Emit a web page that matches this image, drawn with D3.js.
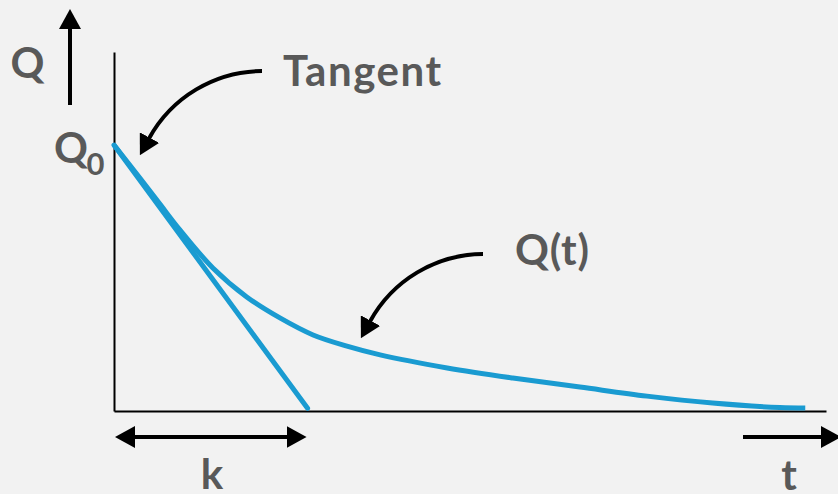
<!DOCTYPE html>
<html>
<head>
<meta charset="utf-8">
<script src="https://cdn.jsdelivr.net/npm/d3@7/dist/d3.min.js"></script>
<style>
  html, body { margin: 0; padding: 0; background: #f2f2f2; }
  svg { display: block; }
  text { font-family: Lato, "Open Sans", sans-serif; font-weight: 700; fill: #595959; }
</style>
</head>
<body>
<script>
// Discharge curve Q(t): time values and flow values
const timeValues = [0, 3.8, 6.7, 9.5, 14.3, 19.2, 24.0, 28.8, 33.7, 38.5, 48.2, 57.7, 67.4, 77.1, 86.6, 96.3, 100];
const flowValues = [100, 87.4, 77.6, 68.2, 53.8, 42.9, 35.0, 28.6, 24.4, 21.1, 16.2, 12.4, 9.0, 5.6, 3.0, 1.3, 1.1];

// Tangent at t = 0, reaching the time axis at t = k
const initialFlow = 100;
const kValue = 28;
const tangentTimes = [0, kValue];
const tangentFlows = [initialFlow, 1];

// Axis extents (beyond the plotted data so the axes run on)
const timeDomain = [0, 103];
const flowDomain = [0, 135];

const labels = { flow: "Q", initial: "Q", initialSub: "0", tangent: "Tangent", curve: "Q(t)", k: "k", time: "t" };

const W = 838, H = 494;
const blue = "#1a9bd1";

const svg = d3.select("body").append("svg").attr("width", W).attr("height", H);
svg.append("rect").attr("width", W).attr("height", H).attr("fill", "#f2f2f2");

const x = d3.scaleLinear().domain(timeDomain).range([114, 826]);
const y = d3.scaleLinear().domain(flowDomain).range([411, 52]);

// Arrowhead marker
const defs = svg.append("defs");
defs.append("marker")
  .attr("id", "head")
  .attr("markerUnits", "userSpaceOnUse")
  .attr("viewBox", "0 -11 20 22")
  .attr("refX", 1).attr("refY", 0)
  .attr("markerWidth", 20).attr("markerHeight", 22)
  .attr("orient", "auto-start-reverse")
  .append("path").attr("d", "M0,-11L20,0L0,11Z").attr("fill", "#000");

// Axes (bare lines, no ticks)
svg.append("g")
  .attr("transform", `translate(0,${y(0)})`)
  .call(d3.axisBottom(x).tickValues([]).tickSizeOuter(0))
  .call(g => g.select(".domain").attr("stroke", "#000").attr("stroke-width", 2));
svg.append("g")
  .attr("transform", `translate(${x(0)},0)`)
  .call(d3.axisLeft(y).tickValues([]).tickSizeOuter(0))
  .call(g => g.select(".domain").attr("stroke", "#000").attr("stroke-width", 2));

// Tangent line
const tangentData = tangentTimes.map((t, i) => [t, tangentFlows[i]]);
svg.append("path")
  .datum(tangentData)
  .attr("fill", "none").attr("stroke", blue).attr("stroke-width", 5)
  .attr("stroke-linecap", "round")
  .attr("d", d3.line().x(d => x(d[0])).y(d => y(d[1])));

// Q(t) curve
const curveData = timeValues.map((t, i) => [t, flowValues[i]]);
svg.append("path")
  .datum(curveData)
  .attr("fill", "none").attr("stroke", blue).attr("stroke-width", 5)
  .attr("d", d3.line().x(d => x(d[0])).y(d => y(d[1])).curve(d3.curveCatmullRom.alpha(0.5)));

// Curved pointer arrow: circular arc ending in an arrowhead
function pointer(x0, y0) {
  const x1 = x0 - 113, y1 = y0 + 67.5;
  svg.append("path")
    .attr("d", `M${x0},${y0}A130,130 0 0 0 ${x1},${y1}`)
    .attr("fill", "none").attr("stroke", "#000").attr("stroke-width", 4)
    .attr("marker-end", "url(#head)");
}
pointer(262, 71);
pointer(483, 254);

// Q axis direction arrow
svg.append("line")
  .attr("x1", 70).attr("y1", 105).attr("x2", 70).attr("y2", 28)
  .attr("stroke", "#000").attr("stroke-width", 4)
  .attr("marker-end", "url(#head)");

// k span arrow
const kY = 437;
svg.append("line")
  .attr("x1", x(0) + 20).attr("y1", kY).attr("x2", x(kValue) - 20).attr("y2", kY)
  .attr("stroke", "#000").attr("stroke-width", 4)
  .attr("marker-start", "url(#head)").attr("marker-end", "url(#head)");

// t direction arrow
svg.append("line")
  .attr("x1", 743).attr("y1", kY).attr("x2", 822).attr("y2", kY)
  .attr("stroke", "#000").attr("stroke-width", 4)
  .attr("marker-end", "url(#head)");

// Labels
svg.append("text").attr("x", 27.5).attr("y", 78).attr("text-anchor", "middle")
  .attr("font-size", 42).text(labels.flow);
svg.append("text").attr("x", 71).attr("y", 163).attr("text-anchor", "middle")
  .attr("font-size", 42).text(labels.initial);
svg.append("text").attr("x", 95.5).attr("y", 175).attr("text-anchor", "middle")
  .attr("font-size", 31).text(labels.initialSub);
svg.append("text").attr("x", 283).attr("y", 86)
  .attr("font-size", 42).attr("textLength", 158).attr("lengthAdjust", "spacing")
  .text(labels.tangent);
svg.append("text").attr("x", 515).attr("y", 265)
  .attr("font-size", 42).attr("textLength", 74).attr("lengthAdjust", "spacing")
  .text(labels.curve);
svg.append("text").attr("x", 212).attr("y", 489).attr("text-anchor", "middle")
  .attr("font-size", 42).text(labels.k);
svg.append("text").attr("x", 789).attr("y", 490).attr("text-anchor", "middle")
  .attr("font-size", 42).text(labels.time);
</script>
</body>
</html>
